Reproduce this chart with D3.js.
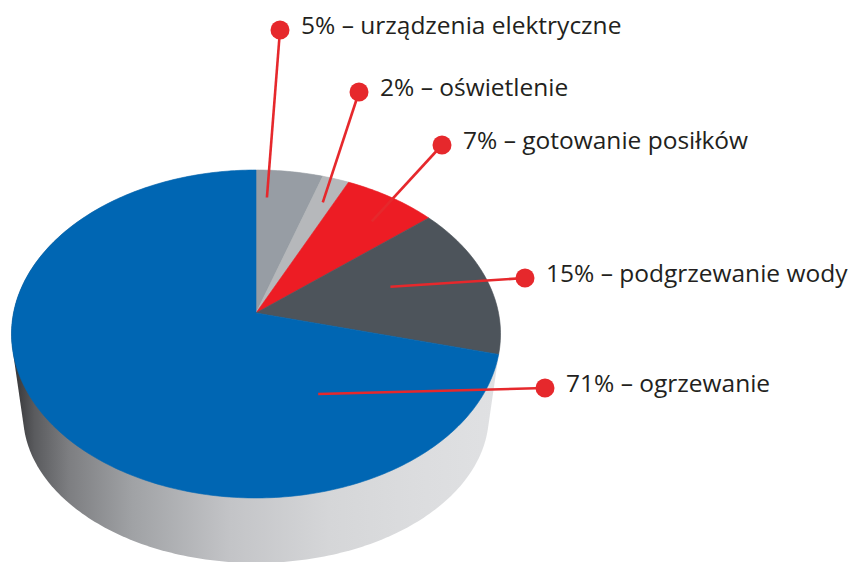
<!DOCTYPE html>
<html>
<head>
<meta charset="utf-8">
<script src="https://cdn.jsdelivr.net/npm/d3@7"></script>
<style>
  html, body { margin: 0; padding: 0; background: #fff; }
  svg { display: block; }
</style>
</head>
<body>
<svg id="pie3d"></svg>
<script>
// energy use in a household, percent
var labels = ["urządzenia elektryczne", "oświetlenie", "gotowanie posiłków", "podgrzewanie wody", "ogrzewanie"];
var values = [5, 2, 7, 15, 71];
var colors = ["#979da4", "#b6b8bb", "#ed1c24", "#4d545b", "#0066b3"];

// where each leader line starts inside its slice (fraction of slice angle, radius)
var anchors = [[0.2, 0.79], [0.54, 0.81], [0.59, 0.80], [0.43, 0.59], [0.19, 0.53]];
// dot of each label
var dots = [[280, 30], [359, 92], [442, 145], [525, 278], [545, 388]];

var width = 858, height = 562;
var svg = d3.select('#pie3d').attr('width', width).attr('height', height);

// top and bottom faces, a circle seen in perspective
var topFace = { cx: 256, cy: 313, a: 242.5, b: 161.3, k: -0.128 };
var botFace = { cx: 256, cy: 396, a: 231, b: 145.6, k: -0.128 };

function proj(face, ang, r) {
    var x = r * Math.sin(ang), y = -r * Math.cos(ang);
    var w = 1 + face.k * y;
    return [face.cx + face.a * x / w, face.cy + face.b * y / w];
}

var defs = svg.append('defs');
var grad = defs.append('linearGradient')
    .attr('id', 'side')
    .attr('gradientUnits', 'userSpaceOnUse')
    .attr('x1', 10).attr('y1', 0).attr('x2', 500).attr('y2', 0);
[[0, '#2e2e30'], [0.05, '#5a5b5e'], [0.12, '#7d7e81'], [0.25, '#a0a2a5'],
 [0.45, '#c3c4c7'], [0.65, '#d5d6d8'], [0.85, '#dcdddf'], [1, '#e0e1e3']]
    .forEach(function(s) {
        grad.append('stop').attr('offset', s[0]).attr('stop-color', s[1]);
    });

// side: hull of both faces
var pts = [];
d3.range(0, 360).forEach(function(i) {
    var a = i / 360 * 2 * Math.PI;
    pts.push(proj(topFace, a, 1));
    pts.push(proj(botFace, a, 1));
});
var hull = d3.polygonHull(pts);
svg.append('path')
    .attr('d', 'M' + hull.join('L') + 'Z')
    .attr('fill', 'url(#side)');

// top face slices
var arcs = d3.pie().sort(null).value(function(d) { return d; })(values);
var line = d3.line();

svg.append('g')
    .selectAll('path')
    .data(arcs)
    .enter().append('path')
    .attr('d', function(d) {
        var n = Math.max(8, Math.ceil((d.endAngle - d.startAngle) * 60));
        var p = [[topFace.cx, topFace.cy]];
        for (var i = 0; i <= n; i++) {
            p.push(proj(topFace, d.startAngle + (d.endAngle - d.startAngle) * i / n, 1));
        }
        return line(p) + 'Z';
    })
    .attr('fill', function(d, i) { return colors[i]; })
    .attr('stroke', function(d, i) { return colors[i]; })
    .attr('stroke-width', 0.6);

// leaders
var lead = svg.append('g');
arcs.forEach(function(d, i) {
    var ang = d.startAngle + (d.endAngle - d.startAngle) * anchors[i][0];
    var p0 = proj(topFace, ang, anchors[i][1]);
    lead.append('line')
        .attr('x1', p0[0]).attr('y1', p0[1])
        .attr('x2', dots[i][0]).attr('y2', dots[i][1])
        .attr('stroke', '#e6282c')
        .attr('stroke-width', 2.6);
    lead.append('circle')
        .attr('cx', dots[i][0]).attr('cy', dots[i][1])
        .attr('r', 9.5)
        .attr('fill', '#e6282c');
});

svg.append('g')
    .selectAll('text')
    .data(labels)
    .enter().append('text')
    .attr('x', function(d, i) { return dots[i][0] + 21; })
    .attr('y', function(d, i) { return dots[i][1] + 4; })
    .attr('font-family', '"Open Sans", sans-serif')
    .attr('font-size', 24.5)
    .attr('fill', '#231f20')
    .text(function(d, i) { return values[i] + '% – ' + d; });
</script>
</body>
</html>
